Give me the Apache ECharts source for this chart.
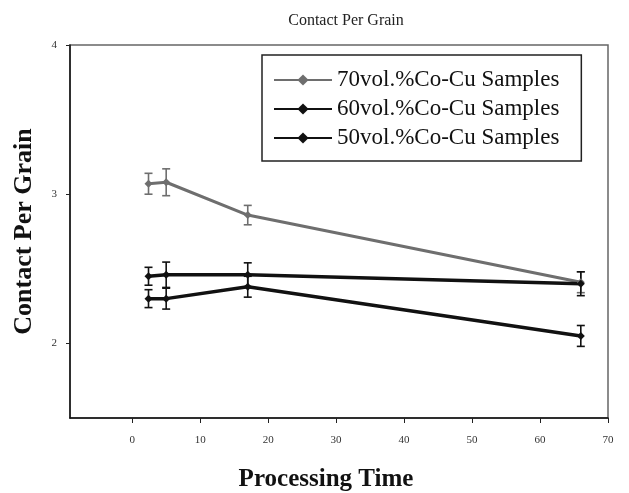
<!DOCTYPE html>
<html>
<head>
<meta charset="utf-8">
<script src="https://cdn.jsdelivr.net/npm/echarts@6/dist/echarts.min.js"></script>
<style>
  html, body { margin: 0; padding: 0; background: #fff; }
  #main { width: 629px; height: 493px; }
</style>
</head>
<body>
<div id="main"></div>
<script>
// processing time of each sample (x)
var times = [2.4, 5, 17, 66];
// contact per grain
var co70 = [3.07, 3.08, 2.86, 2.41];
var co60 = [2.45, 2.46, 2.46, 2.40];
var co50 = [2.30, 2.30, 2.38, 2.05];
// error bar half heights
var err70 = [0.07, 0.09, 0.065, 0.07];
var err60 = [0.06, 0.085, 0.08, 0.08];
var err50 = [0.06, 0.07, 0.07, 0.07];
var xTicks = [0, 10, 20, 30, 40, 50, 60, 70];
var yTicks = [2, 3, 4];
var names = ['70vol.%Co-Cu Samples', '60vol.%Co-Cu Samples', '50vol.%Co-Cu Samples'];

var serif = 'Liberation Serif';

function pairs(vals) {
    var out = [];
    for (var i = 0; i < times.length; i++) {
        out.push([times[i], vals[i]]);
    }
    return out;
}

function errData(vals, errs) {
    var out = [];
    for (var i = 0; i < times.length; i++) {
        out.push([times[i], vals[i], errs[i]]);
    }
    return out;
}

function errRender(color) {
    return function (params, api) {
        var x = api.value(0), y = api.value(1), e = api.value(2);
        var top = api.coord([x, y + e]);
        var bot = api.coord([x, y - e]);
        var w = 4;
        var st = { stroke: color, lineWidth: 1.6 };
        return {
            type: 'group',
            children: [
                { type: 'line', shape: { x1: top[0], y1: top[1], x2: bot[0], y2: bot[1] }, style: st },
                { type: 'line', shape: { x1: top[0] - w, y1: top[1], x2: top[0] + w, y2: top[1] }, style: st },
                { type: 'line', shape: { x1: bot[0] - w, y1: bot[1], x2: bot[0] + w, y2: bot[1] }, style: st }
            ]
        };
    };
}

function lineSeries(name, vals, color, width) {
    return {
        name: name,
        type: 'line',
        data: pairs(vals),
        symbol: 'diamond',
        symbolSize: 8,
        itemStyle: { color: color },
        lineStyle: { color: color, width: width },
        z: 3
    };
}

function errSeries(vals, errs, color) {
    return {
        type: 'custom',
        data: errData(vals, errs),
        encode: { x: 0, y: 1 },
        renderItem: errRender(color),
        z: 2,
        silent: true
    };
}

var chart = echarts.init(document.getElementById('main'));
chart.setOption({
    animation: false,
    title: {
        text: 'Contact Per Grain',
        left: 341,
        textAlign: 'center',
        top: 8,
        textStyle: { fontFamily: serif, fontSize: 16, fontWeight: 'normal', color: '#222' }
    },
    grid: {
        left: 70, right: 21, top: 45, bottom: 75,
        outerBoundsMode: 'none',
        show: true, borderColor: '#666', borderWidth: 1.5
    },
    legend: {
        data: names,
        orient: 'vertical',
        left: 262,
        top: 55,
        padding: [13, 22, 11, 11],
        itemWidth: 58,
        itemHeight: 14,
        itemGap: 5,
        borderColor: '#222',
        borderWidth: 1.5,
        textStyle: { fontFamily: serif, fontSize: 23, color: '#111', lineHeight: 24 }
    },
    xAxis: {
        type: 'value',
        min: -9.15,
        max: 70,
        name: 'Processing Time',
        nameLocation: 'middle',
        nameGap: 49,
        nameTextStyle: { fontFamily: serif, fontSize: 25, fontWeight: 'bold', color: '#111', padding: [0, 26, 0, 0] },
        splitLine: { show: false },
        axisLine: { onZero: false, lineStyle: { color: '#111', width: 1.5 } },
        axisTick: { customValues: xTicks, length: 5, lineStyle: { color: '#222' } },
        axisLabel: { customValues: xTicks, margin: 17, fontFamily: serif, fontSize: 11, color: '#333' }
    },
    yAxis: {
        type: 'value',
        min: 1.5,
        max: 4,
        name: 'Contact Per Grain',
        nameLocation: 'middle',
        nameGap: 33,
        nameTextStyle: { fontFamily: serif, fontSize: 26, fontWeight: 'bold', color: '#111' },
        splitLine: { show: false },
        axisLine: { onZero: false, lineStyle: { color: '#111', width: 1.5 } },
        axisTick: { customValues: yTicks, length: 4, lineStyle: { color: '#222' } },
        axisLabel: { customValues: yTicks, margin: 13, fontFamily: serif, fontSize: 11, color: '#333' }
    },
    series: [
        errSeries(co70, err70, '#6e6e6e'),
        errSeries(co60, err60, '#111'),
        errSeries(co50, err50, '#111'),
        lineSeries(names[0], co70, '#6e6e6e', 3),
        lineSeries(names[1], co60, '#111', 3.5),
        lineSeries(names[2], co50, '#111', 3.5)
    ]
});
</script>
</body>
</html>
